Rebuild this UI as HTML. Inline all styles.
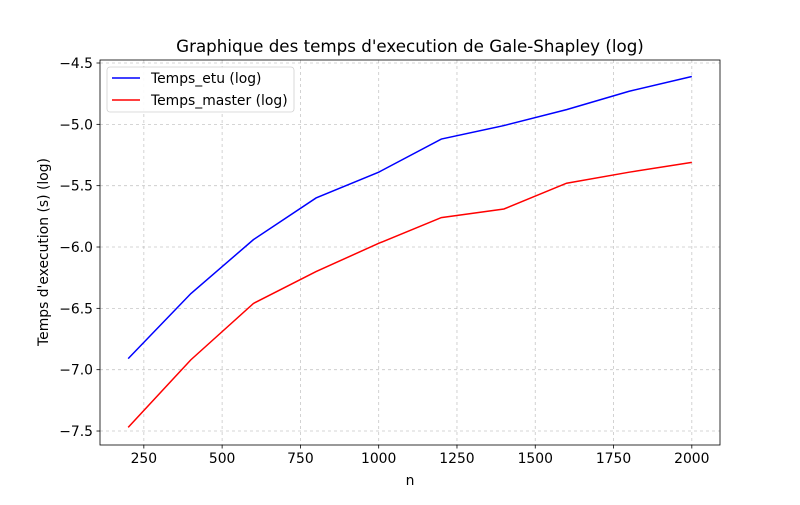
<!DOCTYPE html>
<html><head><meta charset="utf-8"><style>
body{margin:0;background:#fff;}
svg{font-family:"DejaVu Sans","Liberation Sans",sans-serif;}
</style></head><body>
<svg id="c" width="800" height="500" xmlns="http://www.w3.org/2000/svg"></svg>
<script>
const nValues=[200,400,600,800,1000,1200,1400,1600,1800,2000];
const tempsEtu=[-6.91,-6.38,-5.94,-5.60,-5.39,-5.12,-5.01,-4.88,-4.73,-4.61];
const tempsMaster=[-7.47,-6.92,-6.46,-6.20,-5.97,-5.76,-5.69,-5.48,-5.39,-5.31];
const xTicks=[250,500,750,1000,1250,1500,1750,2000];
const yTicks=[-4.5,-5.0,-5.5,-6.0,-6.5,-7.0,-7.5];
const L=100,R=720,T=60,B=445;
const xMin=110,xMax=2090,yMin=-7.614,yMax=-4.4755;
const X=v=>L+(v-xMin)/(xMax-xMin)*(R-L);
const Y=v=>B-(v-yMin)/(yMax-yMin)*(B-T);
const svg=document.getElementById('c');
const NS='http://www.w3.org/2000/svg';
function mk(t,a,txt){const e=document.createElementNS(NS,t);for(const k in a)e.setAttribute(k,a[k]);if(txt!==undefined)e.textContent=txt;svg.appendChild(e);return e;}
xTicks.forEach(t=>{const x=X(t);
 let g=mk('line',{x1:x,x2:x,y1:T,y2:B,stroke:'#b0b0b0','stroke-width':0.8,'stroke-dasharray':'3,3',opacity:0.7});
 
 let k=mk('line',{x1:x,x2:x,y1:B,y2:B+3.5,stroke:'#000','stroke-width':0.8});
 
 let l=mk('text',{x:x,y:B+18,'font-size':13.9,'text-anchor':'middle'},String(t));
 
});
yTicks.forEach(t=>{const y=Y(t);
 let g=mk('line',{x1:L,x2:R,y1:y,y2:y,stroke:'#b0b0b0','stroke-width':0.8,'stroke-dasharray':'3,3',opacity:0.7});
 
 let k=mk('line',{x1:L-3.5,x2:L,y1:y,y2:y,stroke:'#000','stroke-width':0.8});
 
 let l=mk('text',{x:L-7,y:y+5,'font-size':13.9,'text-anchor':'end'},t.toFixed(1).replace('-','\u2212'));
 
});
function line(vals,color,name){
 const p=mk('polyline',{points:vals.map((v,i)=>X(nValues[i])+','+Y(v)).join(' '),fill:'none',stroke:color,'stroke-width':1.5});
 
}
line(tempsEtu,'#0000ff','temps-etu-line');
line(tempsMaster,'#ff0000','temps-master-line');
let fr=mk('rect',{x:L,y:T,width:R-L,height:B-T,fill:'none',stroke:'#000','stroke-width':0.8});

let tt=mk('text',{x:410,y:52,'font-size':16.7,'text-anchor':'middle'},"Graphique des temps d'execution de Gale-Shapley (log)");

let xl=mk('text',{x:410,y:485,'font-size':13.9,'text-anchor':'middle'},'n');

let yl=mk('text',{x:48,y:252,'font-size':13.9,'text-anchor':'middle',transform:'rotate(-90 48 252)'},"Temps d'execution (s) (log)");

let lg=mk('rect',{x:107,y:67,width:187,height:45,rx:3,fill:'#fff',stroke:'#ccc','stroke-width':0.8,opacity:0.9});

[['Temps_etu (log)','#0000ff',78],['Temps_master (log)','#ff0000',100]].forEach(([t,c,y])=>{
 let s=mk('line',{x1:112,x2:140,y1:y,y2:y,stroke:c,'stroke-width':1.5});
 
 let e=mk('text',{x:151,y:y+5,'font-size':13.9},t);
 
});
</script>
</body></html>
